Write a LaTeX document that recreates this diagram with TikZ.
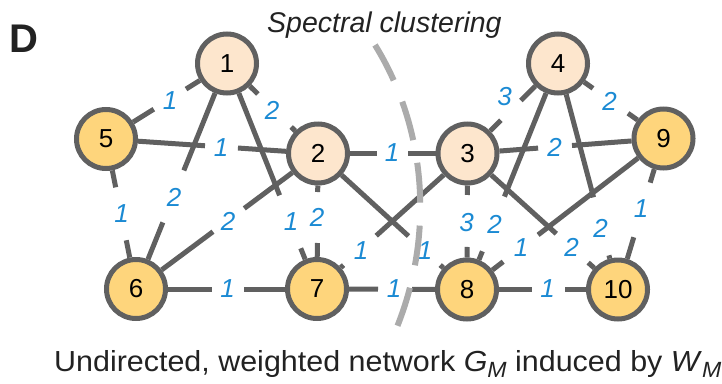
\documentclass[tikz,border=0pt]{standalone}
\usepackage{fontspec}
\setmainfont{Liberation Sans}
\newfontfamily\captionface[FakeStretch=1.05]{Liberation Sans}
\usetikzlibrary{calc}

\definecolor{edgegray}{HTML}{606060}
\definecolor{corefill}{HTML}{FDE6CD}
\definecolor{leaffill}{HTML}{FED57C}
\definecolor{weightblue}{HTML}{1B8AD3}
\definecolor{cutgray}{HTML}{ABABAB}
\definecolor{inkdark}{HTML}{222222}

\pgfdeclarelayer{edges}
\pgfsetlayers{edges,main}

\tikzset{
  vertex/.style={circle, draw=edgegray, line width=5pt, minimum size=59pt,
    inner sep=0pt, font=\fontsize{26}{26}\selectfont},
  corevertex/.style={vertex, fill=corefill},
  leafvertex/.style={vertex, fill=leaffill},
  edge/.style={draw=edgegray, line width=5pt},
  weight/.style={inner sep=0pt, text=weightblue,
    font=\fontsize{26}{26}\selectfont\itshape},
  cutline/.style={draw=cutgray, line width=6pt, dash pattern=on 40pt off 23pt},
}

% edge between nodes #1 and #2, broken around the point nearest to #3,
% leaving a gap of 2*#4 pt; #5 names the helper coordinates
\newcommand{\netedge}[5]{%
  \coordinate (#5c) at ($(#1)!(#3)!(#2)$);
  \coordinate (#5a) at ($(#5c)!#4pt!(#1)$);
  \coordinate (#5b) at ($(#5c)!#4pt!(#2)$);
  \draw[edge] (#1) -- (#5a) (#5b) -- (#2);
}
% italic subscript letter used in the caption
\newcommand{\capsub}[1]{\raisebox{-6.5pt}{\fontsize{22}{22}\selectfont\itshape #1}}

\begin{document}
\begin{tikzpicture}[x=1pt, y=-1pt]
\useasboundingbox (0,0) rectangle (722,383);

% panel letter and titles
\node[anchor=base west, inner sep=0pt, text=inkdark,
  font=\fontsize{40}{40}\selectfont\bfseries] (panel) at (9,52) {D};
\node[anchor=base west, inner sep=0pt, text=inkdark,
  font=\fontsize{28.5}{28.5}\selectfont\itshape] (cuttitle) at (267,32) {Spectral clustering};
\node[anchor=base west, inner sep=0pt, text=inkdark,
  font=\captionface\fontsize{29}{29}\selectfont] (caption) at (54,371)
  {Undirected, weighted network \textit{G}\capsub{M} induced by \textit{W}\capsub{M}};

% vertices
\node[corevertex] (n1) at (227,63.5) {1};
\node[corevertex] (n2) at (318,153.5) {2};
\node[corevertex] (n3) at (467.5,153.5) {3};
\node[corevertex] (n4) at (558,63.5) {4};
\node[leafvertex] (n5) at (106,139) {5};
\node[leafvertex] (n6) at (136,289) {6};
\node[leafvertex] (n7) at (317,289) {7};
\node[leafvertex] (n8) at (467,289.5) {8};
\node[leafvertex] (n9) at (663.5,138.5) {9};
\node[leafvertex] (n10) at (618,289.5) {10};

% edges
\begin{pgfonlayer}{edges}
\netedge{n1}{n5}{169.5,98.5}{19}{e15}
\netedge{n1}{n2}{275,110}{23.5}{e12}
\netedge{n1}{n6}{173.5,196.5}{28}{e16}
\netedge{n1}{n7}{291,221.5}{28.5}{e17}
\netedge{n2}{n7}{317,217.5}{25.5}{e27}
\netedge{n5}{n2}{221.5,146.5}{16.5}{e52}
\netedge{n5}{n6}{122.5,213.5}{27}{e56}
\netedge{n6}{n2}{229,220.5}{19.5}{e62}
\netedge{n6}{n7}{228,289}{16}{e67}
\netedge{n2}{n3}{392.5,153.5}{15.5}{e23}
\netedge{n2}{n8}{424,251}{21.5}{e28}
\netedge{n3}{n7}{359.5,250}{22}{e37}
\netedge{n7}{n8}{395,289}{17}{e78}
\netedge{n3}{n4}{511.5,111}{14}{e34}
\netedge{n3}{n9}{555,146}{17}{e39}
\netedge{n4}{n9}{610,101.5}{21.5}{e49}
\netedge{n4}{n8}{493.5,224}{29.5}{e48}
\netedge{n3}{n8}{468,221}{26}{e38}
\netedge{n3}{n10}{571.5,249}{21.5}{e310}
\netedge{n4}{n10}{602.5,226}{30}{e410}
\netedge{n9}{n8}{520,247.5}{22}{e98}
\netedge{n9}{n10}{640.5,209.5}{28.5}{e910}
\netedge{n8}{n10}{548.5,289}{16.5}{e810}
\end{pgfonlayer}

% edge weights
\node[weight] (w15) at (170,101) {1};
\node[weight] (w12) at (272,110) {2};
\node[weight] (w16) at (174,197) {2};
\node[weight] (w17) at (291,222) {1};
\node[weight] (w27) at (317,217) {2};
\node[weight] (w52) at (221,147.5) {1};
\node[weight] (w56) at (121.5,214) {1};
\node[weight] (w62) at (228,221) {2};
\node[weight] (w67) at (227.5,289) {1};
\node[weight] (w23) at (392,153) {1};
\node[weight] (w28) at (425,251) {1};
\node[weight] (w37) at (361,251) {1};
\node[weight] (w78) at (394,289) {1};
\node[weight] (w34) at (504.5,96.5) {3};
\node[weight] (w39) at (554.5,147.5) {2};
\node[weight] (w49) at (609.5,101) {2};
\node[weight] (w48) at (494.5,224) {2};
\node[weight] (w38) at (466.5,222.5) {3};
\node[weight] (w310) at (571.5,247.5) {2};
\node[weight] (w410) at (600.5,228) {2};
\node[weight] (w98) at (521,248) {1};
\node[weight] (w910) at (641,209) {1};
\node[weight] (w810) at (547.5,289) {1};

% spectral cut
\coordinate (cuttop) at (375,45);
\coordinate (cutbottom) at (397,327);
\draw[cutline] (cuttop) .. controls (427,129) and (434,235) .. (cutbottom);
\end{tikzpicture}
\end{document}
